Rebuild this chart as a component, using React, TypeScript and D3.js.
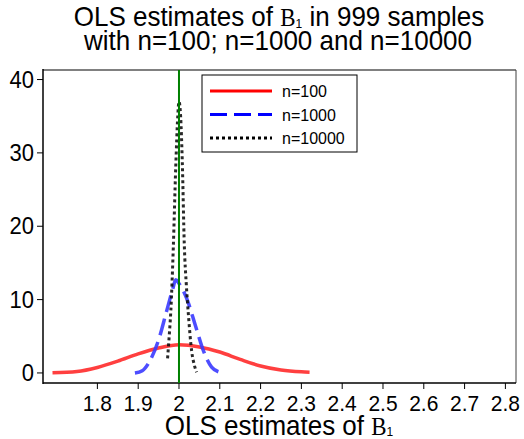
import React from "react";
import * as d3 from "d3";

const xTicks = [1.8, 1.9, 2, 2.1, 2.2, 2.3, 2.4, 2.5, 2.6, 2.7, 2.8];
const yTicks = [0, 10, 20, 30, 40];

const n100X = [1.69, 1.75, 1.8, 1.85, 1.9, 1.95, 2.0, 2.05, 2.1, 2.15, 2.2, 2.25, 2.3, 2.32];
const n100Y = [0.02, 0.2, 0.75, 1.6, 2.6, 3.4, 3.85, 3.55, 2.85, 1.85, 0.95, 0.4, 0.15, 0.1];

const n1000X = [1.892, 1.91, 1.93, 1.95, 1.97, 1.985, 1.992, 2.0, 2.02, 2.04, 2.06, 2.08, 2.1];
const n1000Y = [0.0, 0.3, 1.8, 4.5, 8.5, 11.5, 12.7, 12.2, 10.0, 6.5, 3.0, 0.8, 0.1];

const n10000X = [1.972, 1.976, 1.98, 1.986, 1.992, 1.997, 2.0, 2.004, 2.008, 2.013, 2.018, 2.023, 2.031, 2.038, 2.043];
const n10000Y = [2.0, 5, 8.5, 17, 28, 35, 37, 35, 29, 17.5, 12, 8, 3, 1, 0.1];

const trueValue = 2;

const seriesNames = ["n=100", "n=1000", "n=10000"];

export default function App() {
  const W = 524, H = 439;
  const left = 43, right = 516, top = 70, bottom = 383;
  const x = d3.scaleLinear().domain([1.6667, 2.826]).range([left, right]);
  const y = d3.scaleLinear().domain([-1.37, 41.3]).range([bottom, top]);
  const line = d3.line<[number, number]>().x(d => x(d[0])).y(d => y(d[1])).curve(d3.curveMonotoneX);
  const mk = (xs: number[], ys: number[]) => xs.map((v, i) => [v, ys[i]] as [number, number]);

  const series = [
    { name: seriesNames[0], d: mk(n100X, n100Y), color: "#ff2a2a", legend: "#ff0000", dash: "none", w: 3.5 },
    { name: seriesNames[1], d: mk(n1000X, n1000Y), color: "#3a3aff", legend: "#0000ff", dash: "17,7", w: 3.5 },
    { name: seriesNames[2], d: mk(n10000X, n10000Y), color: "#111", legend: "#000", dash: "3,3", w: 3 },
  ];
  const font = "Liberation Sans, Arial, sans-serif";
  const serif = "Liberation Serif, Times New Roman, serif";
  const st = (tx: number, ty: number, s = 1.08) => `translate(${tx},${ty}) scale(1,${s})`;

  return (
    <svg width={W} height={H} style={{ position: "absolute", left: 0, top: 0, background: "#fff" }}>
      <text transform={st(279, 26)} textAnchor="middle" fontFamily={font} fontSize={26}>
        OLS estimates of <tspan fontFamily={serif} fontSize={23}>B</tspan><tspan fontSize={12} dy={2}>1</tspan><tspan dy={-2}> in 999 samples</tspan>
      </text>
      <text transform={st(278, 49.5)} textAnchor="middle" fontFamily={font} fontSize={26}>
        with n=100; n=1000 and n=10000
      </text>
      {/* frame */}
      <line x1={left} x2={right} y1={top} y2={top} stroke="#808080" strokeWidth={2} />
      <line x1={right} x2={right} y1={top} y2={bottom} stroke="#404040" strokeWidth={1} />
      <line x1={left} x2={left} y1={top - 1} y2={bottom + 1} stroke="#000" strokeWidth={1.5} />
      <line x1={left} x2={right} y1={bottom} y2={bottom} stroke="#000" strokeWidth={1.5} />
      {/* y ticks */}
      {yTicks.map(t => (
        <g key={t}>
          <line x1={left - 6} x2={left} y1={y(t)} y2={y(t)} stroke="#000" strokeWidth={1} />
          <text transform={st(34, y(t) + 8)} textAnchor="end" fontFamily={font} fontSize={22}>{t}</text>
        </g>
      ))}
      {/* x ticks */}
      {xTicks.map(t => (
        <g key={t}>
          <line x1={x(t)} x2={x(t)} y1={bottom} y2={bottom + 6} stroke="#000" strokeWidth={1} />
          <text transform={st(x(t), 411)} textAnchor="middle" fontFamily={font} fontSize={21}>{d3.format("~g")(t)}</text>
        </g>
      ))}
      <text transform={st(279, 434.5, 1.05)} textAnchor="middle" fontFamily={font} fontSize={26}>
        OLS estimates of <tspan fontFamily={serif} fontSize={23}>B</tspan><tspan fontSize={12} dy={1.5}>1</tspan>
      </text>
      {/* curves */}
      {series.map(s => (
        <path key={s.name} d={line(s.d) || ""} fill="none" stroke={s.color} strokeWidth={s.w}
          strokeDasharray={s.dash} opacity={0.9} />
      ))}
      <line x1={x(trueValue)} x2={x(trueValue)} y1={top} y2={bottom} stroke="#008000" strokeWidth={2} />
      {/* legend */}
      <rect x={202} y={75} width={155} height={77} fill="#fff" stroke="#000" strokeWidth={1} />
      {series.map((s, i) => (
        <g key={s.name}>
          <line x1={210} x2={272} y1={91 + i * 23.5} y2={91 + i * 23.5} stroke={s.legend}
            strokeWidth={3} strokeDasharray={s.dash} />
          <text x={282} y={97 + i * 23.5} fontFamily={font} fontSize={16}>{s.name}</text>
        </g>
      ))}
    </svg>
  );
}
